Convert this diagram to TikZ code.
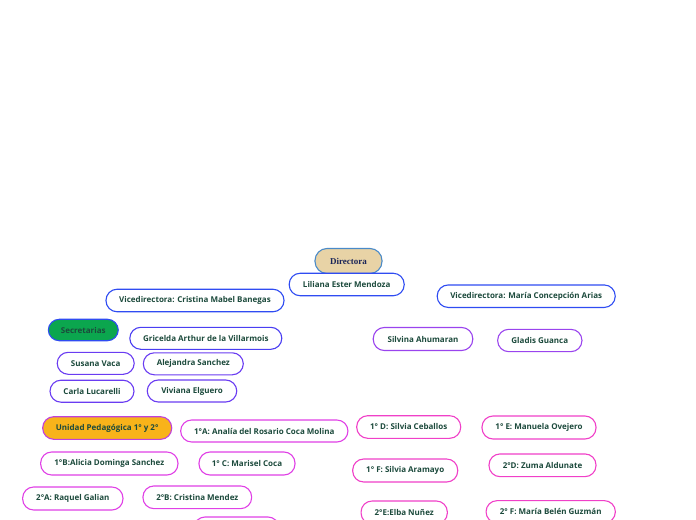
\documentclass[tikz,border=0pt]{standalone}
\usepackage{fontspec}
\setmainfont{Open Sans}
\newfontfamily\labelfont{Open Sans}
\newfontfamily\dirfont{Liberation Serif}
\definecolor{txtgreen}{HTML}{1C4A3C}
\definecolor{navy}{HTML}{1A2558}
\definecolor{bBlue}{HTML}{2F4CF2}
\definecolor{bIndigo}{HTML}{4A3EF2}
\definecolor{bViolet}{HTML}{6A3CF2}
\definecolor{bPurple}{HTML}{9A44EE}
\definecolor{bMagA}{HTML}{C040DC}
\definecolor{bMag}{HTML}{E040E6}
\definecolor{bPink}{HTML}{F040C8}
\definecolor{tan}{HTML}{E8D3A6}
\definecolor{steel}{HTML}{4A8AC8}
\definecolor{grn}{HTML}{0BA64E}
\definecolor{orng}{HTML}{F8B31A}
\tikzset{
  pill/.style={draw, rectangle, rounded corners=11bp, inner sep=0pt,
    line width=1.1bp, fill=white, text=txtgreen,
    font=\labelfont\bfseries\fontsize{8bp}{9.5bp}\selectfont},
  dirbox/.style={pill, draw=steel, fill=tan, text=navy, rounded corners=12bp,
    font=\dirfont\bfseries\fontsize{9bp}{10bp}\selectfont},
}
\begin{document}
\begin{tikzpicture}[x=1bp,y=-1bp]
\useasboundingbox (0,0) rectangle (696,520);
\clip (0,0) rectangle (696,520);
\node[dirbox, minimum width=67bp, minimum height=25bp] (dir) at (348.5,261) {Directora};
\node[pill, draw=bBlue, minimum width=115bp, minimum height=22.5bp] (lil) at (346.7,284.5) {Liliana Ester Mendoza};
\node[pill, draw=bBlue, minimum width=178bp, minimum height=22.5bp] (viceA) at (195,300.5) {Vicedirectora: Cristina Mabel Banegas};
\node[pill, draw=bBlue, minimum width=178bp, minimum height=22.5bp] (viceB) at (526.2,296.2) {Vicedirectora: María Concepción Arias};
\node[pill, draw=bBlue, fill=grn, minimum width=70bp, minimum height=21.5bp] (sec) at (83.3,330) {Secretarias};
\node[pill, draw=bIndigo, minimum width=152bp, minimum height=22bp] (gri) at (205.8,338.3) {Gricelda Arthur de la Villarmois};
\node[pill, draw=bViolet, minimum width=77bp, minimum height=22bp] (sus) at (95.7,363.3) {Susana Vaca};
\node[pill, draw=bViolet, minimum width=100bp, minimum height=22bp] (ale) at (193.3,363.8) {Alejandra Sanchez};
\node[pill, draw=bViolet, minimum width=84bp, minimum height=22bp] (car) at (92,391.2) {Carla Lucarelli};
\node[pill, draw=bViolet, minimum width=89.5bp, minimum height=22bp] (viv) at (192,391) {Viviana Elguero};
\node[pill, draw=bPurple, minimum width=99.5bp, minimum height=23bp] (sil) at (423,339) {Silvina Ahumaran};
\node[pill, draw=bPurple, minimum width=84.3bp, minimum height=22.3bp] (gla) at (539.8,340.5) {Gladis Guanca};
\node[pill, draw=bMagA, fill=orng, minimum width=129bp, minimum height=22.6bp] (uni) at (107.2,428) {Unidad Pedagógica 1° y 2°};
\node[pill, draw=bMag, minimum width=167.3bp, minimum height=22bp] (unoA) at (264.3,431) {1°A: Analía del Rosario Coca Molina};
\node[pill, draw=bMag, minimum width=137.3bp, minimum height=23bp] (unoB) at (109.3,463.5) {1°B:Alicia Dominga Sanchez};
\node[pill, draw=bMag, minimum width=96bp, minimum height=23bp] (unoC) at (247,463.5) {1° C: Marisel Coca};
\node[pill, draw=bMag, minimum width=100.3bp, minimum height=23bp] (dosA) at (72.8,498.5) {2°A: Raquel Galian};
\node[pill, draw=bMag, minimum width=108.7bp, minimum height=22.7bp] (dosB) at (197.3,497.3) {2°B: Cristina Mendez};
\node[pill, draw=bMag, minimum width=85bp, minimum height=23bp] (dosC) at (236.5,528.5) {};
\node[pill, draw=bPink, minimum width=104bp, minimum height=22.6bp] (unoD) at (408.7,427) {1° D: Silvia Ceballos};
\node[pill, draw=bPink, minimum width=114bp, minimum height=23bp] (unoE) at (539,427.5) {1° E: Manuela Ovejero};
\node[pill, draw=bPink, minimum width=105bp, minimum height=23bp] (unoF) at (405.2,470.5) {1° F: Silvia Aramayo};
\node[pill, draw=bPink, minimum width=107bp, minimum height=22.7bp] (dosD) at (542.5,465.3) {2°D: Zuma Aldunate};
\node[pill, draw=bPink, minimum width=86.3bp, minimum height=23bp] (dosE) at (404.2,512.5) {2°E:Elba Nuñez};
\node[pill, draw=bPink, minimum width=129.3bp, minimum height=22.3bp] (dosF) at (550.7,511.8) {2° F: María Belén Guzmán};
\end{tikzpicture}
\end{document}
